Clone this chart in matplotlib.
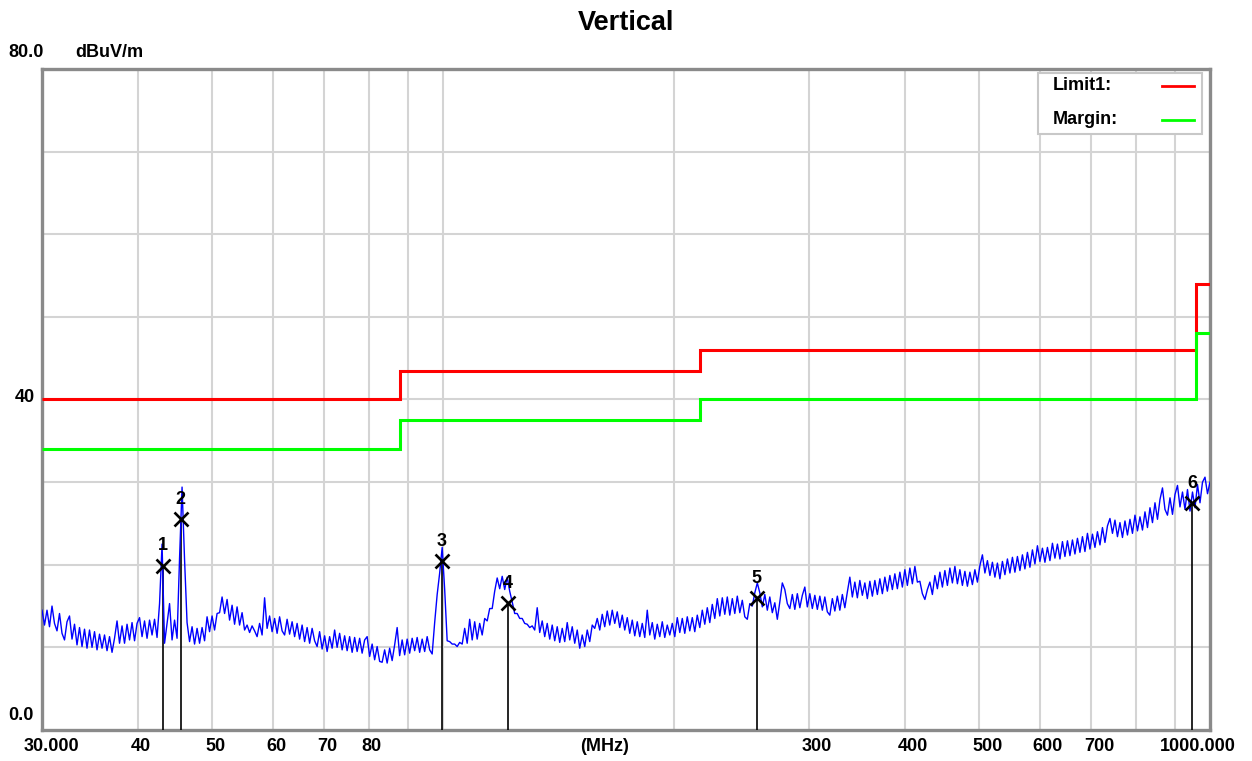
import numpy as np
import matplotlib.pyplot as plt
from matplotlib.lines import Line2D
from matplotlib.patches import Rectangle
from matplotlib.ticker import NullLocator
from matplotlib.transforms import blended_transform_factory, offset_copy

plt.rcParams['font.family'] = ['Liberation Sans', 'DejaVu Sans']

# sweep 30 MHz .. 1000 MHz, level in dBuV/m
freq_start, freq_stop = 30.0, 1000.0
level = [
    14.5, 12.7, 14.5, 12.5, 15.0, 12.9, 12.0, 14.1, 11.7, 10.9, 13.1, 13.8, 11.0, 12.8, 10.3, 12.4, 10.1, 12.2, 9.9, 12.1,
    10.0, 11.9, 9.7, 11.6, 9.9, 11.5, 9.6, 11.3, 9.4, 11.1, 13.2, 10.5, 12.6, 10.5, 12.8, 10.9, 13.0, 10.8, 12.9, 13.6,
    11.3, 13.2, 11.1, 13.3, 11.5, 13.4, 11.2, 15.3, 22.5, 10.5, 12.9, 15.3, 10.9, 13.3, 11.1, 20.8, 29.4, 20.6, 13.0, 10.7,
    12.5, 10.4, 12.3, 10.5, 12.4, 10.8, 13.7, 11.9, 13.8, 12.1, 14.1, 14.2, 16.1, 14.1, 15.8, 13.3, 15.1, 12.8, 14.9, 12.7,
    14.2, 12.1, 12.7, 11.8, 12.6, 12.0, 11.3, 12.9, 11.5, 16.0, 12.3, 13.8, 11.9, 13.5, 11.7, 13.7, 12.0, 11.5, 13.4, 11.6,
    13.1, 11.3, 12.9, 11.0, 12.7, 10.7, 12.4, 10.5, 12.3, 10.8, 10.1, 11.9, 9.8, 11.4, 9.5, 11.3, 9.9, 12.1, 10.0, 11.7,
    9.7, 11.4, 9.6, 11.3, 9.4, 11.2, 9.5, 11.1, 9.3, 10.9, 11.3, 8.9, 10.4, 8.5, 10.1, 8.3, 8.2, 9.7, 8.1, 9.9,
    8.4, 10.3, 12.4, 9.0, 10.9, 9.1, 11.0, 9.3, 11.1, 9.6, 11.2, 9.4, 11.0, 9.5, 11.3, 9.7, 9.2, 13.0, 16.4, 19.0,
    22.1, 17.0, 10.8, 10.7, 10.4, 10.4, 10.1, 10.6, 10.4, 12.3, 10.5, 13.4, 10.9, 13.1, 11.0, 12.9, 11.5, 13.5, 13.2, 14.7,
    14.7, 16.8, 18.4, 17.1, 18.6, 17.0, 18.5, 16.8, 15.5, 14.1, 14.1, 13.5, 13.5, 12.9, 12.8, 12.4, 12.6, 12.1, 14.8, 11.8,
    13.2, 11.3, 12.9, 11.0, 12.7, 10.8, 12.5, 10.6, 12.3, 10.7, 13.0, 10.9, 12.5, 10.5, 12.1, 9.9, 11.5, 10.1, 12.1, 10.7,
    12.7, 12.3, 13.5, 12.1, 14.0, 12.5, 14.4, 12.7, 14.5, 12.9, 14.3, 12.4, 13.9, 12.1, 13.6, 11.7, 13.3, 11.4, 13.1, 11.3,
    12.9, 11.2, 14.5, 11.5, 13.0, 11.0, 12.8, 11.3, 13.1, 11.2, 12.7, 11.5, 12.9, 11.3, 13.6, 11.8, 13.5, 11.7, 13.7, 12.0,
    13.6, 11.9, 13.9, 12.4, 14.5, 12.8, 14.8, 13.0, 15.2, 13.5, 15.9, 13.8, 16.0, 14.0, 16.1, 13.9, 15.9, 14.1, 16.2, 14.2,
    15.7, 13.7, 13.4, 15.3, 15.0, 16.6, 17.8, 16.6, 14.9, 16.4, 14.5, 16.1, 14.2, 15.4, 13.4, 15.5, 17.8, 17.0, 15.3, 14.7,
    16.4, 14.6, 16.5, 14.8, 16.3, 17.3, 14.9, 16.5, 14.7, 16.3, 14.6, 16.2, 14.5, 16.1, 14.3, 13.9, 15.9, 14.4, 16.2, 14.5,
    16.4, 14.8, 16.7, 18.5, 16.1, 17.9, 16.0, 18.1, 16.3, 17.8, 15.9, 18.0, 16.2, 18.1, 16.4, 18.3, 16.5, 18.5, 16.8, 18.7,
    17.0, 18.9, 17.1, 19.1, 17.3, 19.4, 17.5, 19.6, 17.7, 19.8, 17.9, 18.0, 16.5, 15.8, 17.0, 17.9, 16.4, 18.7, 17.1, 19.1,
    17.3, 19.3, 17.5, 19.6, 17.8, 19.8, 17.7, 19.4, 17.5, 19.2, 17.4, 19.1, 17.6, 19.4, 17.9, 19.9, 21.2, 19.0, 20.5, 18.7,
    20.3, 18.5, 20.2, 18.3, 20.4, 18.8, 20.7, 19.0, 20.9, 19.1, 21.0, 19.3, 21.2, 19.5, 21.5, 19.7, 21.8, 20.1, 22.3, 20.4,
    22.0, 20.3, 22.1, 20.5, 22.6, 20.8, 22.5, 20.7, 22.8, 21.0, 22.9, 21.1, 23.0, 21.3, 23.2, 21.5, 23.4, 21.6, 23.8, 21.9,
    23.7, 22.1, 24.0, 22.4, 24.5, 22.7, 24.7, 25.6, 23.8, 25.4, 23.4, 25.1, 23.3, 25.3, 23.6, 25.5, 23.8, 26.0, 24.1, 25.8,
    24.2, 26.4, 24.5, 26.9, 25.1, 27.5, 25.5, 27.9, 29.3, 26.7, 26.0, 28.1, 26.1, 28.5, 29.6, 27.0, 28.8, 26.7, 29.1, 26.5,
    28.8, 26.9, 29.7, 27.5, 30.0, 30.6, 28.6, 30.0,
]
freq = np.geomspace(freq_start, freq_stop, len(level))

# limit lines (step edges in MHz)
limit_edges = [30, 88, 216, 960, 1000]
limit1 = [40.0, 43.5, 46.0, 54.0]
margin = [34.0, 37.5, 40.0, 48.0]

# peak markers
marker_freq = [43.1, 45.5, 99.7, 121.6, 256.5, 948.0]
marker_level = [19.9, 25.5, 20.4, 15.4, 16.0, 27.5]

grid_freq = [40, 50, 60, 70, 80, 90, 100, 200, 300, 400, 500, 600, 700, 800, 900]
x_tick_freq = [30, 40, 50, 60, 70, 80, 300, 400, 500, 600, 700, 1000]
x_tick_text = ['30.000', '40', '50', '60', '70', '80', '300', '400', '500', '600', '700', '1000.000']

W, H = 1252, 761
fig = plt.figure(figsize=(W / 100, H / 100), dpi=100)
ax = fig.add_axes([42 / W, 1 - 730 / H, 1168 / W, 661 / H])

ax.set_xscale('log')
ax.set_xlim(freq_start, freq_stop)
ax.set_ylim(0, 80)
ax.set_xticks(grid_freq)
ax.xaxis.set_minor_locator(NullLocator())
ax.set_yticks(range(10, 80, 10))
ax.set_xticklabels([])
ax.set_yticklabels([])
ax.tick_params(length=0)
ax.grid(True, color='#d4d4d4', linewidth=1.5)
ax.set_axisbelow(True)
for sp in ax.spines.values():
    sp.set_color('#8a8a8a')
    sp.set_linewidth(2.4)

ax.stairs(limit1, limit_edges, baseline=None, color='#ff0000', linewidth=2.2, zorder=3)
ax.stairs(margin, limit_edges, baseline=None, color='#00ff00', linewidth=2.2, zorder=3)

ax.vlines(marker_freq, 0, marker_level, color='black', linewidth=1.2, zorder=4)
ax.plot(freq, level, color='#0000ff', linewidth=1.0, zorder=5)
ax.plot(marker_freq, marker_level, 'x', color='black', markersize=10, markeredgewidth=1.9, zorder=6)
for i, (f, v) in enumerate(zip(marker_freq, marker_level)):
    ax.annotate(str(i + 1), (f, v), xytext=(0, 8), textcoords='offset points',
                ha='center', va='bottom', fontsize=13, fontweight='bold', zorder=7)

# x tick labels (left aligned just before the grid line)
base = blended_transform_factory(ax.transData, ax.transAxes)
for f, s in zip(x_tick_freq, x_tick_text):
    dx = -7
    if s == '30.000':
        dx = -18
    elif s == '1000.000':
        dx = -50
    tr = offset_copy(base, fig=fig, x=dx, y=-8, units='dots')
    ax.text(f, 0, s, transform=tr, ha='left', va='top', fontsize=13, fontweight='bold')
fig.text(580 / W, 1 - 738 / H, '(MHz)', ha='left', va='top', fontsize=13, fontweight='bold')

# y labels sit above their lines
fig.text(8 / W, 1 - 57 / H, '80.0', ha='left', va='baseline', fontsize=13, fontweight='bold')
fig.text(75 / W, 1 - 57 / H, 'dBuV/m', ha='left', va='baseline', fontsize=13, fontweight='bold')
fig.text(15 / W, 1 - 402 / H, '40', ha='left', va='baseline', fontsize=13, fontweight='bold')
fig.text(8 / W, 1 - 720 / H, '0.0', ha='left', va='baseline', fontsize=13, fontweight='bold')

fig.text(0.5, 1 - 30 / H, 'Vertical', ha='center', va='baseline', fontsize=19.5, fontweight='bold')

# legend box
fig.add_artist(Rectangle((1038 / W, 1 - 134 / H), 164 / W, 61 / H, transform=fig.transFigure,
                         facecolor='white', edgecolor='#c8c8c8', linewidth=1.5, zorder=10))
fig.text(1053 / W, 1 - 86 / H, 'Limit1:', ha='left', va='center', fontsize=13, fontweight='bold', zorder=11)
fig.text(1053 / W, 1 - 120 / H, 'Margin:', ha='left', va='center', fontsize=13, fontweight='bold', zorder=11)
fig.add_artist(Line2D([1162 / W, 1194 / W], [1 - 86 / H, 1 - 86 / H], transform=fig.transFigure,
                      color='#ff0000', linewidth=2, zorder=11))
fig.add_artist(Line2D([1162 / W, 1194 / W], [1 - 120 / H, 1 - 120 / H], transform=fig.transFigure,
                      color='#00ff00', linewidth=2, zorder=11))

fig.savefig('out.png', dpi=100)
